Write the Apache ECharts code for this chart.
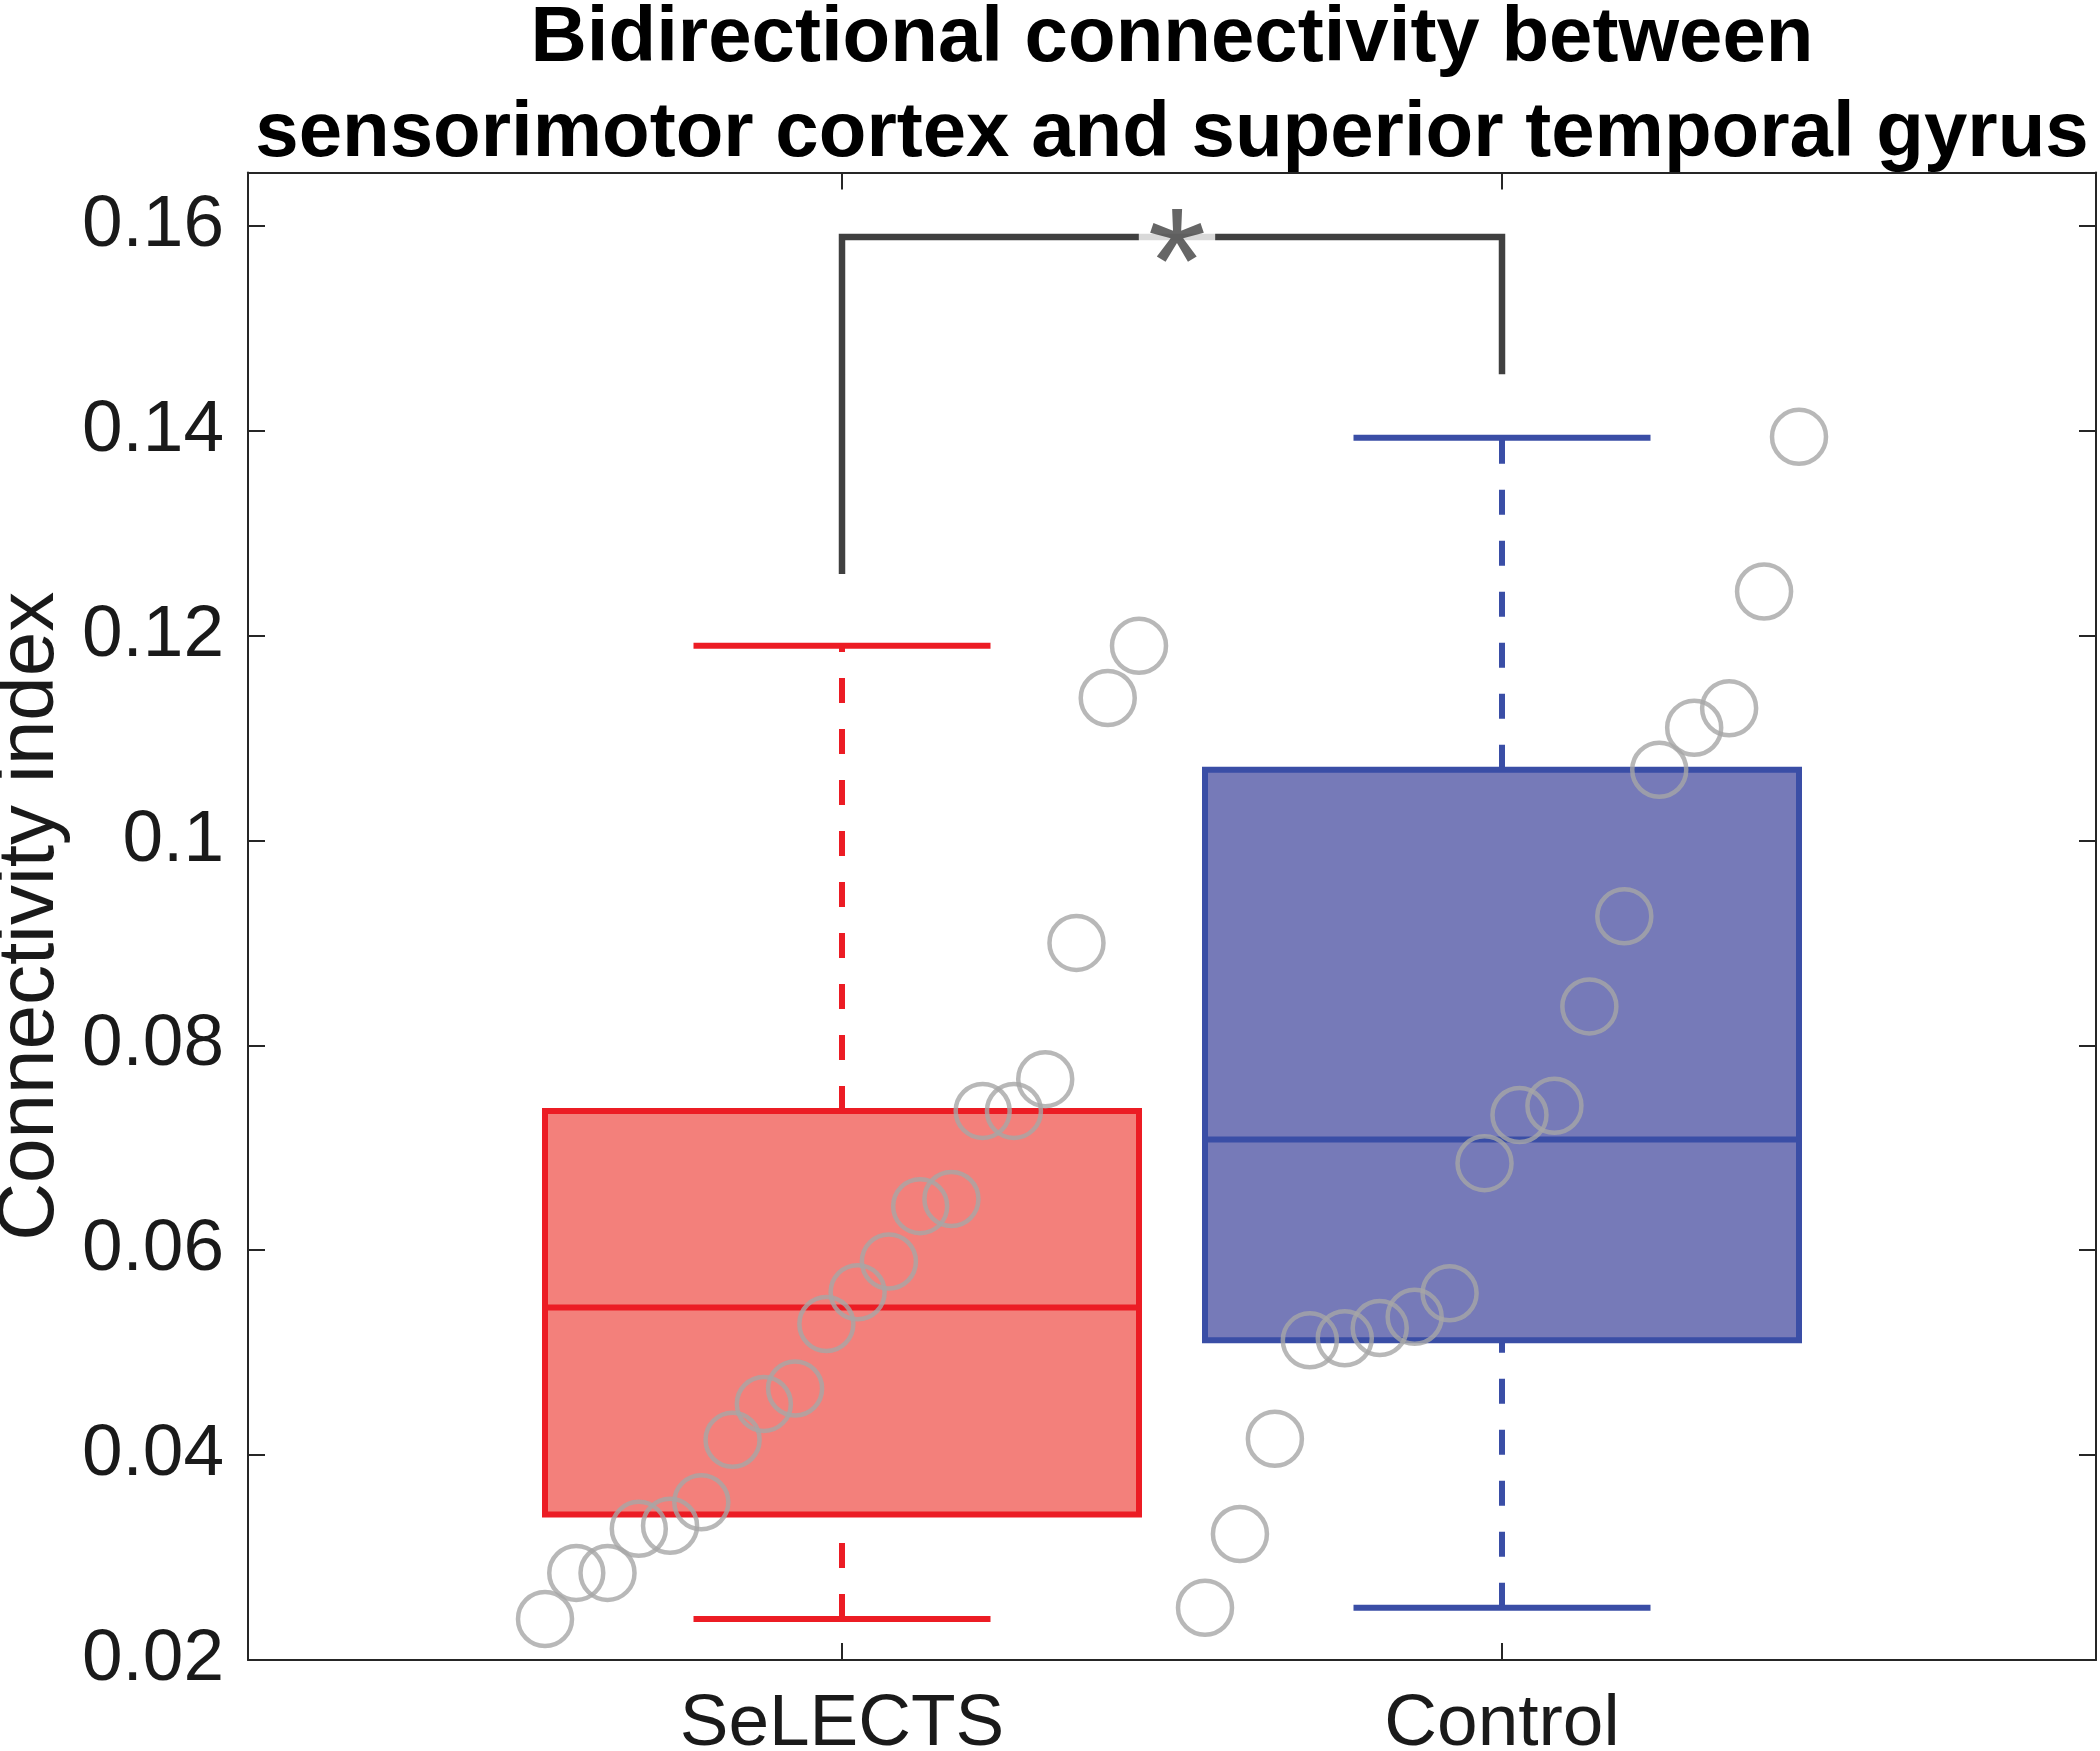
<!DOCTYPE html>
<html><head><meta charset="utf-8">
<script src="https://cdn.jsdelivr.net/npm/echarts@6/dist/echarts.min.js"></script>
<style>html,body{margin:0;padding:0;background:#fff}#c{width:2100px;height:1751px}</style>
</head><body><div id="c"></div>
<script>
// ---------- data ----------
const categories = ['SeLECTS', 'Control'];
const categoryPositions = [1, 2];
// box statistics: [lower whisker, Q1, median, Q3, upper whisker]
const selectsBox = [0.0240, 0.0342, 0.0544, 0.0736, 0.1190];
const controlBox = [0.0251, 0.0512, 0.0708, 0.1069, 0.1393];
// individual subjects (sorted)
const selectsPoints = [0.0240, 0.0285, 0.0285, 0.0328, 0.0331, 0.0354, 0.0415, 0.0450, 0.0465, 0.0528,
  0.0559, 0.0589, 0.0643, 0.0650, 0.0736, 0.0736, 0.0767, 0.0900, 0.1139, 0.1190];
const controlPoints = [0.0251, 0.0323, 0.0416, 0.0512, 0.0514, 0.0524, 0.0535, 0.0558, 0.0685, 0.0732,
  0.0741, 0.0838, 0.0926, 0.1069, 0.1110, 0.1129, 0.1243, 0.1394];
const yTicks = [0.02, 0.04, 0.06, 0.08, 0.1, 0.12, 0.14, 0.16];
// significance bracket: x ends, [left foot, top, right foot]
const bracketX = [1, 2];
const bracketY = [0.1260, 0.1589, 0.1455];
const bracketLabel = '*';
const titleLines = ['Bidirectional connectivity between', 'sensorimotor cortex and superior temporal gyrus'];
const yAxisName = 'Connectivity index';

// ---------- style ----------
const FONT = '"Liberation Sans", Arial, Helvetica, sans-serif';
const AXIS_COLOR = '#262626';
const styles = [
  { edge: '#ec1c24', fill: '#f3807b' },
  { edge: '#3a4ea6', fill: '#767ab8' }
];
const BOX_HALF = 0.45, CAP_HALF = 0.225;

function spread(pos, vals) {
  const n = vals.length;
  return vals.map((v, i) => [pos - BOX_HALF + (2 * BOX_HALF) * i / (n - 1), v]);
}

function boxSeries(idx, stats) {
  const st = styles[idx];
  return {
    type: 'custom',
    xAxisIndex: 0, yAxisIndex: 0,
    silent: true,
    z: 2,
    data: [[categoryPositions[idx]].concat(stats)],
    renderItem: function (params, api) {
      const x = api.value(0);
      const pMin = api.coord([x, api.value(1)]);
      const pQ1 = api.coord([x, api.value(2)]);
      const pMd = api.coord([x, api.value(3)]);
      const pQ3 = api.coord([x, api.value(4)]);
      const pMax = api.coord([x, api.value(5)]);
      const hb = api.size([BOX_HALF, 0])[0];
      const hc = api.size([CAP_HALF, 0])[0];
      const cx = pMd[0];
      const lw = 6;
      const dash = { stroke: st.edge, lineWidth: lw, lineDash: [25, 26] };
      return {
        type: 'group',
        children: [
          { type: 'line', shape: { x1: cx, y1: pMin[1], x2: cx, y2: pQ1[1] }, style: dash },
          { type: 'line', shape: { x1: cx, y1: pQ3[1], x2: cx, y2: pMax[1] }, style: dash },
          { type: 'line', shape: { x1: cx - hc, y1: pMin[1], x2: cx + hc, y2: pMin[1] }, style: { stroke: st.edge, lineWidth: lw } },
          { type: 'line', shape: { x1: cx - hc, y1: pMax[1], x2: cx + hc, y2: pMax[1] }, style: { stroke: st.edge, lineWidth: lw } },
          { type: 'rect', shape: { x: cx - hb, y: pQ3[1], width: 2 * hb, height: pQ1[1] - pQ3[1] },
            style: { fill: st.fill, stroke: st.edge, lineWidth: lw, lineJoin: 'miter' } },
          { type: 'line', shape: { x1: cx - hb, y1: pMd[1], x2: cx + hb, y2: pMd[1] }, style: { stroke: st.edge, lineWidth: lw } }
        ]
      };
    }
  };
}

function pointSeries(idx, vals) {
  return {
    type: 'scatter',
    xAxisIndex: 0, yAxisIndex: 0,
    silent: true,
    z: 3,
    symbol: 'circle',
    symbolSize: 54,
    itemStyle: { color: 'rgba(0,0,0,0)', borderColor: '#a6a6a6', borderWidth: 4.5 },
    data: spread(categoryPositions[idx], vals)
  };
}

const chart = echarts.init(document.getElementById('c'), null, { renderer: 'canvas' });
chart.setOption({
  animation: false,
  backgroundColor: '#ffffff',
  grid: { left: 248, right: 4, top: 172.5, bottom: 91, containLabel: false, outerBoundsMode: 'none' },
  xAxis: [
    {
      type: 'value', position: 'bottom', min: 0.1, max: 2.9,
      axisLine: { show: true, onZero: false, lineStyle: { color: AXIS_COLOR, width: 2 } },
      axisTick: { show: true, inside: true, length: 17, customValues: categoryPositions, lineStyle: { color: AXIS_COLOR, width: 2 } },
      axisLabel: {
        show: true, customValues: categoryPositions, margin: 28,
        fontFamily: FONT, fontSize: 73, color: '#1a1a1a',
        formatter: v => categories[categoryPositions.indexOf(Math.round(v))] || ''
      },
      splitLine: { show: false }
    },
    {
      type: 'value', position: 'top', min: 0.1, max: 2.9,
      axisLine: { show: true, onZero: false, lineStyle: { color: AXIS_COLOR, width: 2 } },
      axisTick: { show: true, inside: true, length: 17, customValues: categoryPositions, lineStyle: { color: AXIS_COLOR, width: 2 } },
      axisLabel: { show: false },
      splitLine: { show: false }
    }
  ],
  yAxis: [
    {
      type: 'value', position: 'left', min: 0.02, max: 0.1652,
      name: yAxisName, nameLocation: 'middle', nameGap: 168,
      nameTextStyle: { fontFamily: FONT, fontSize: 80, color: '#1a1a1a' },
      axisLine: { show: true, onZero: false, lineStyle: { color: AXIS_COLOR, width: 2 } },
      axisTick: { show: true, inside: true, length: 17, customValues: yTicks, lineStyle: { color: AXIS_COLOR, width: 2 } },
      axisLabel: {
        show: true, customValues: yTicks, margin: 24,
        fontFamily: FONT, fontSize: 73, color: '#1a1a1a',
        formatter: v => String(+Number(v).toFixed(2))
      },
      splitLine: { show: false }
    },
    {
      type: 'value', position: 'right', min: 0.02, max: 0.1652,
      axisLine: { show: true, onZero: false, lineStyle: { color: AXIS_COLOR, width: 2 } },
      axisTick: { show: true, inside: true, length: 17, customValues: yTicks, lineStyle: { color: AXIS_COLOR, width: 2 } },
      axisLabel: { show: false },
      splitLine: { show: false }
    }
  ],
  series: [
    boxSeries(0, selectsBox),
    boxSeries(1, controlBox),
    pointSeries(0, selectsPoints),
    pointSeries(1, controlPoints),
    {
      type: 'line', xAxisIndex: 0, yAxisIndex: 0, silent: true, z: 4,
      symbol: 'none',
      lineStyle: { color: '#404040', width: 6.5, join: 'miter', cap: 'butt' },
      data: [[bracketX[0], bracketY[0]], [bracketX[0], bracketY[1]], [bracketX[1], bracketY[1]], [bracketX[1], bracketY[2]]]
    },
    {
      type: 'scatter', xAxisIndex: 0, yAxisIndex: 0, silent: true, z: 5,
      symbolSize: 1, itemStyle: { color: 'rgba(0,0,0,0)' },
      data: [[(bracketX[0] + bracketX[1]) / 2, bracketY[1]]],
      label: {
        show: true, position: 'inside', formatter: bracketLabel,
        fontFamily: FONT, fontSize: 150, color: '#404040',
        backgroundColor: '#ffffff', padding: [0, 9], offset: [5, 35]
      }
    }
  ],
  graphic: [
    { type: 'text', x: 1172, y: 39, silent: true,
      style: { text: titleLines[0], font: 'bold 78px ' + FONT, fill: '#000', align: 'center', verticalAlign: 'middle' } },
    { type: 'text', x: 1172, y: 134, silent: true,
      style: { text: titleLines[1], font: 'bold 78px ' + FONT, fill: '#000', align: 'center', verticalAlign: 'middle' } }
  ]
});
</script>
</body></html>
